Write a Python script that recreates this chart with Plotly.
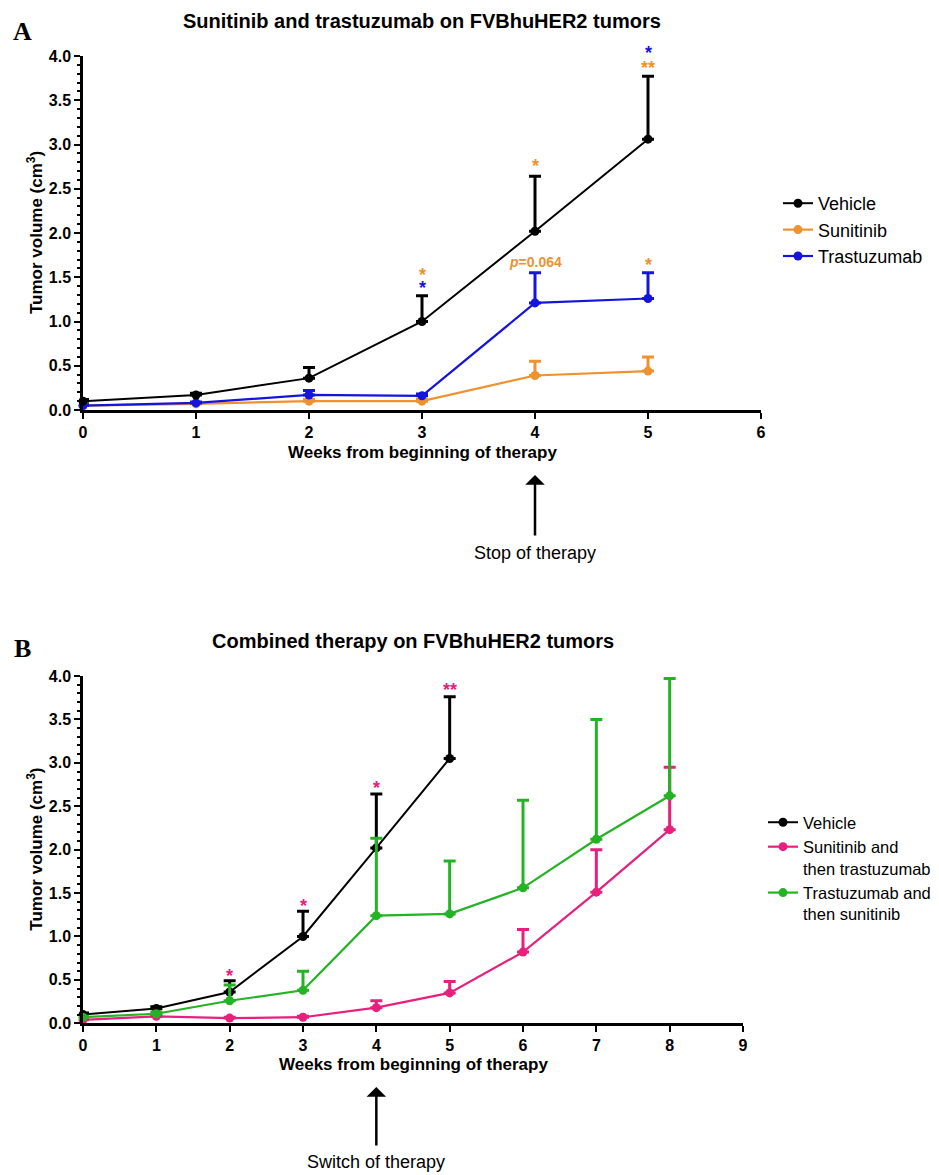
import plotly.graph_objects as go

# The page body adds an 8px margin; the figure is sized to fill the rest of the window
PAGE_OFF = 8
W, H = 939 - PAGE_OFF, 1175 - PAGE_OFF
FONT = "Liberation Sans, Arial, sans-serif"

# ---------------- Data: panel A ----------------
weeks_a = [0, 1, 2, 3, 4, 5]
vehicle_a = [0.10, 0.17, 0.36, 1.00, 2.02, 3.06]
vehicle_a_err = [0.02, 0.02, 0.12, 0.29, 0.62, 0.71]
sunitinib_a = [0.05, 0.07, 0.10, 0.10, 0.39, 0.44]
sunitinib_a_err = [0.01, 0.01, 0.02, 0.02, 0.16, 0.16]
trastuzumab_a = [0.05, 0.08, 0.17, 0.16, 1.21, 1.26]
trastuzumab_a_err = [0.01, 0.01, 0.05, 0.02, 0.34, 0.29]

# ---------------- Data: panel B ----------------
weeks_b_vehicle = [0, 1, 2, 3, 4, 5]
vehicle_b = [0.10, 0.17, 0.36, 1.00, 2.02, 3.05]
vehicle_b_err = [0.02, 0.02, 0.13, 0.29, 0.62, 0.71]
weeks_b = [0, 1, 2, 3, 4, 5, 6, 7, 8]
sun_then_trast = [0.04, 0.08, 0.06, 0.07, 0.18, 0.35, 0.82, 1.51, 2.23]
sun_then_trast_err = [0.01, 0.01, 0.01, 0.01, 0.08, 0.13, 0.26, 0.49, 0.72]
trast_then_sun = [0.07, 0.11, 0.26, 0.38, 1.24, 1.26, 1.56, 2.12, 2.62]
trast_then_sun_err = [0.01, 0.02, 0.18, 0.22, 0.89, 0.61, 1.01, 1.38, 1.35]

# significance marks (week, tumor volume level, text, series colour)
stars_a_x = [3, 3, 4, 4, 5, 5, 5]
stars_a_y = [1.57, 1.42, 2.80, 1.67, 1.68, 4.08, 3.91]
stars_a_text = ["*", "*", "*", "<i>p</i>=0.064", "*", "*", "**"]
stars_a_series = ["sun", "tra", "sun", "sun", "sun", "tra", "sun"]

stars_b_x = [2, 3, 4, 5]
stars_b_y = [0.59, 1.40, 2.76, 3.88]
stars_b_text = ["*", "*", "*", "**"]

Y_MAX = 4.0

# labels
title_a = "Sunitinib and trastuzumab on FVBhuHER2 tumors"
title_b = "Combined therapy on FVBhuHER2 tumors"
x_title = "Weeks from beginning of therapy"
y_title = "Tumor volume (cm<sup>3</sup>)"

BLACK = "#000000"
ORANGE = "#EE9230"
BLUE = "#1414DC"
PINK = "#E6207C"
GREEN = "#24B324"
COL = {"sun": ORANGE, "tra": BLUE}


def px_x(x):
    """window pixel -> paper fraction"""
    return (x - PAGE_OFF) / W


def px_y(y):
    return 1 - (y - PAGE_OFF) / H


fig = go.Figure()


def add_series(x, y, err, color, name, xa, ya, legend, rank, lw=2.2):
    fig.add_trace(go.Scatter(
        x=x, y=y, mode="lines+markers", name=name,
        line=dict(color=color, width=lw),
        marker=dict(color=color, size=9),
        error_y=dict(type="data", symmetric=False, array=err,
                     arrayminus=[0] * len(err), color=color,
                     thickness=3, width=6),
        xaxis=xa, yaxis=ya, legend=legend, legendrank=rank,
        cliponaxis=False, hoverinfo="x+y+name",
    ))


# Panel A
add_series(weeks_a, sunitinib_a, sunitinib_a_err, ORANGE, "Sunitinib", "x", "y", "legend", 2)
add_series(weeks_a, trastuzumab_a, trastuzumab_a_err, BLUE, "Trastuzumab", "x", "y", "legend", 3)
add_series(weeks_a, vehicle_a, vehicle_a_err, BLACK, "Vehicle", "x", "y", "legend", 1, lw=2)

# Panel B
add_series(weeks_b_vehicle, vehicle_b, vehicle_b_err, BLACK, "Vehicle", "x2", "y2", "legend2", 1, lw=2)
add_series(weeks_b, sun_then_trast, sun_then_trast_err, PINK,
           "Sunitinib and<br>then trastuzumab", "x2", "y2", "legend2", 2)
add_series(weeks_b, trast_then_sun, trast_then_sun_err, GREEN,
           "Trastuzumab and<br>then sunitinib", "x2", "y2", "legend2", 3)

tickfont = dict(family=FONT, size=16, color="black", weight="bold")
axis_common = dict(showline=True, linecolor="black", linewidth=2.5,
                   ticks="outside", ticklen=6, tickwidth=2, tickcolor="black",
                   showgrid=False, zeroline=False, tickfont=tickfont,
                   fixedrange=True, automargin=False)
yminor = dict(dtick=0.1, ticks="outside", ticklen=3, tickwidth=1.5,
              tickcolor="black", showgrid=False)

xa_dom = [px_x(83), px_x(761)]
ya_dom = [px_y(410), px_y(56)]
xb_dom = [px_x(83), px_x(743)]
yb_dom = [px_y(1023.3), px_y(676)]

fig.update_layout(
    template="none",
    width=W, height=H,
    margin=dict(l=0, r=0, t=0, b=0, pad=0),
    paper_bgcolor="white", plot_bgcolor="white",
    font=dict(family=FONT, color="black"),
    xaxis=dict(domain=xa_dom, range=[0, 6], dtick=1, anchor="y", **axis_common),
    yaxis=dict(domain=ya_dom, range=[0, Y_MAX], dtick=0.5, tickformat=".1f",
               minor=yminor, anchor="x", **axis_common),
    xaxis2=dict(domain=xb_dom, range=[0, 9], dtick=1, anchor="y2", **axis_common),
    yaxis2=dict(domain=yb_dom, range=[0, Y_MAX], dtick=0.5, tickformat=".1f",
                minor=yminor, anchor="x2", **axis_common),
    legend=dict(x=px_x(778), y=px_y(185), xanchor="left", yanchor="top",
                font=dict(family=FONT, size=18, color="black"),
                itemwidth=30, bgcolor="rgba(0,0,0,0)", borderwidth=0,
                tracegroupgap=0),
    legend2=dict(x=px_x(763), y=px_y(805), xanchor="left", yanchor="top",
                 font=dict(family=FONT, size=16.5, color="black"),
                 itemwidth=30, bgcolor="rgba(0,0,0,0)", borderwidth=0,
                 tracegroupgap=0, valign="top"),
    showlegend=True,
)


def label(text, x, y, font, **kw):
    d = dict(text=text, x=x, y=y, xref="paper", yref="paper", showarrow=False,
             xanchor="center", yanchor="middle", font=font)
    d.update(kw)
    return d


ann = []
serif = dict(family="Liberation Serif, Times New Roman, serif", size=26, color="black")
ann.append(label("<b>A</b>", px_x(22), px_y(31), serif))
ann.append(label("<b>B</b>", px_x(22), px_y(649), serif))

tfont = dict(family=FONT, size=20, color="black", weight="bold")
ann.append(label(title_a, (xa_dom[0] + xa_dom[1]) / 2, px_y(21), tfont))
ann.append(label(title_b, (xb_dom[0] + xb_dom[1]) / 2, px_y(641), tfont))

afont = dict(family=FONT, size=17, color="black", weight="bold")
ann.append(label(x_title, (xa_dom[0] + xa_dom[1]) / 2, px_y(452), afont))
ann.append(label(x_title, (xb_dom[0] + xb_dom[1]) / 2, px_y(1064), afont))
ann.append(label(y_title, px_x(35), (ya_dom[0] + ya_dom[1]) / 2, afont, textangle=-90))
ann.append(label(y_title, px_x(35), (yb_dom[0] + yb_dom[1]) / 2, afont, textangle=-90))

# Significance marks (positioned on the axis domain so marks above 4.0 stay visible)
for xv, yv, t, s in zip(stars_a_x, stars_a_y, stars_a_text, stars_a_series):
    is_star = t.startswith("*")
    ann.append(dict(text=t, x=xv, y=yv / Y_MAX, xref="x", yref="y domain",
                    showarrow=False, xanchor="center", yanchor="middle",
                    yshift=-4 if is_star else 0,
                    font=dict(family=FONT, size=18 if is_star else 14,
                              color=COL[s], weight="bold")))
for xv, yv, t in zip(stars_b_x, stars_b_y, stars_b_text):
    ann.append(dict(text=t, x=xv, y=yv / Y_MAX, xref="x2", yref="y2 domain",
                    showarrow=False, xanchor="center", yanchor="middle",
                    yshift=-4, font=dict(family=FONT, size=18, color=PINK, weight="bold")))

# Arrows and notes
nfont = dict(family=FONT, size=18, color="black")
ann.append(dict(text="", x=4, y=px_y(475), xref="x", yref="paper", showarrow=True,
                ax=0, ay=62, axref="pixel", ayref="pixel", arrowhead=1, arrowsize=1.3,
                arrowwidth=2.5, arrowcolor="black"))
ann.append(dict(text="Stop of therapy", x=4, y=px_y(553), xref="x", yref="paper",
                showarrow=False, xanchor="center", yanchor="middle", font=nfont))
ann.append(dict(text="", x=4, y=px_y(1087), xref="x2", yref="paper", showarrow=True,
                ax=0, ay=60, axref="pixel", ayref="pixel", arrowhead=1, arrowsize=1.3,
                arrowwidth=2.5, arrowcolor="black"))
ann.append(dict(text="Switch of therapy", x=4, y=px_y(1162), xref="x2", yref="paper",
                showarrow=False, xanchor="center", yanchor="middle", font=nfont))

fig.update_layout(annotations=ann)

fig.write_html("out.html")
